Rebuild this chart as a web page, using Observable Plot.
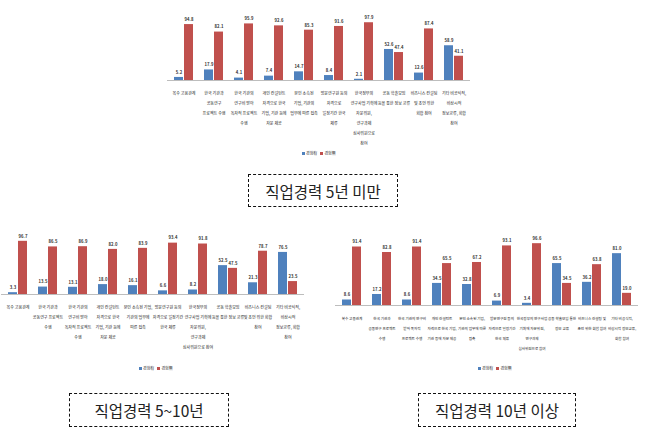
<!DOCTYPE html>
<html><head><meta charset="utf-8">
<script src="https://cdn.jsdelivr.net/npm/d3@7"></script>
<script src="https://cdn.jsdelivr.net/npm/@observablehq/plot@0.6"></script>
<style>
body{margin:0;background:#fff;font-family:"Noto Sans CJK KR",sans-serif;}
#root{position:relative;width:652px;height:433px;overflow:hidden;background:#fff;}
.chart{position:absolute;}
.legend{position:absolute;font-size:4px;color:#333;white-space:nowrap;line-height:5px;}
.legend span.sw{display:inline-block;width:3px;height:3px;margin-right:1px;vertical-align:middle;}
.legend span.t{margin-right:3px;vertical-align:middle;}
.box{position:absolute;border:1.5px dashed #111;display:flex;align-items:center;justify-content:center;font-size:15.5px;color:#222;box-sizing:border-box;}
</style></head>
<body><div id="root"></div>
<script>
const series = ["경험有", "경험無"];
const colors = ["#4F81BD", "#C0504D"];

// 직업경력 5년 미만
const labelsA = [
  "복수 고용관계",
  "한국 기관과\n공동연구\n프로젝트 수행",
  "한국 기관의\n연구비 받아\n독자적 프로젝트\n수행",
  "개인 컨설턴트\n자격으로 한국\n기업, 기관 등에\n자문 제공",
  "본인 소속된\n기업, 기관의\n업무에 따른 접촉",
  "방문연구원 등의\n자격으로\n일정기간 한국\n체류",
  "한국정부의\n연구사업 기획에\n자문위원,\n연구과제\n심사위원으로\n참여",
  "공동 학술모임\n등을 통한 정보 교류",
  "비즈니스 컨설팅\n및 조언 위한\n회합 참여",
  "기타 비공식적,\n비상시적\n정보교류, 회합\n참여"
];
const yesA = [5.2, 17.9, 4.1, 7.4, 14.7, 8.4, 2.1, 52.6, 12.6, 58.9];
const noA  = [94.8, 82.1, 95.9, 92.6, 85.3, 91.6, 97.9, 47.4, 87.4, 41.1];

// 직업경력 5~10년
const labelsB = [
  "복수 고용관계",
  "한국 기관과\n공동연구 프로젝트\n수행",
  "한국 기관의\n연구비 받아\n독자적 프로젝트\n수행",
  "개인 컨설턴트\n자격으로 한국\n기업, 기관 등에\n자문 제공",
  "본인 소속된 기업,\n기관의 업무에\n따른 접촉",
  "방문연구원 등의\n자격으로 일정기간\n한국 체류",
  "한국정부의\n연구사업 기획에\n자문위원,\n연구과제\n심사위원으로 참여",
  "공동 학술모임\n등을 통한 정보 교류",
  "비즈니스 컨설팅\n및 조언 위한 회합\n참여",
  "기타 비공식적,\n비상시적\n정보교류, 회합\n참여"
];
const yesB = [3.3, 13.5, 13.1, 18.0, 16.1, 6.6, 8.2, 52.5, 21.3, 76.5];
const noB  = [96.7, 86.5, 86.9, 82.0, 83.9, 93.4, 91.8, 47.5, 78.7, 23.5];

// 직업경력 10년 이상
const labelsC = [
  "복수 고용관계",
  "한국 기관과\n공동연구 프로젝트\n수행",
  "한국 기관의 연구비\n받아 독자적\n프로젝트 수행",
  "개인 컨설턴트\n자격으로 한국 기업,\n기관 등에 자문 제공",
  "본인 소속된 기업,\n기관의 업무에 따른\n접촉",
  "방문연구원 등의\n자격으로 일정기간\n한국 체류",
  "한국정부의 연구사업\n기획에 자문위원,\n연구과제\n심사위원으로 참여",
  "공동 학술모임 통한\n정보 교류",
  "비즈니스 컨설팅 및\n조언 위한 회합 참여",
  "기타 비공식적,\n비상시적 정보교류,\n회합 참여"
];
const yesC = [8.6, 17.2, 8.6, 34.5, 32.8, 6.9, 3.4, 65.5, 36.2, 81.0];
const noC  = [91.4, 82.8, 91.4, 65.5, 67.2, 93.1, 96.6, 34.5, 63.8, 19.0];

const captions = ["직업경력 5년 미만", "직업경력 5~10년", "직업경력 10년 이상"];

const root = document.getElementById("root");

function makeChart(labels, yes, no, cfg) {
  const rows = [];
  labels.forEach((l, i) => {
    rows.push({cat: i, series: series[0], value: yes[i]});
    rows.push({cat: i, series: series[1], value: no[i]});
  });
  const chart = Plot.plot({
    width: cfg.width, height: cfg.height,
    marginLeft: cfg.ml, marginRight: cfg.mr, marginTop: cfg.mt, marginBottom: cfg.mb,
    style: {fontFamily: "'Noto Sans CJK KR', sans-serif", background: "transparent"},
    fx: {domain: d3.range(labels.length), paddingInner: 0.3, paddingOuter: 0.15, label: null},
    x: {domain: series, padding: 0.1, axis: null},
    y: {domain: [0, 100], axis: null},
    color: {domain: series, range: colors},
    marks: [
      Plot.barY(rows, {fx: "cat", x: "series", y: "value", fill: "series"}),
      Plot.ruleY([0], {stroke: "#bdbdbd", strokeWidth: 1, insetLeft: -6, insetRight: -6}),
      Plot.text(rows, {fx: "cat", x: "series", y: "value", text: d => d.value.toFixed(1), dy: -5, fontSize: 4.2, fill: "#333", fontWeight: "bold"}),
      Plot.axisFx({anchor: "bottom", tickSize: 0, tickPadding: 7, fontSize: cfg.fs, lineHeight: 10 / cfg.fs, fill: "#222", tickFormat: i => labels[i], label: null})
    ]
  });
  const div = document.createElement("div");
  div.className = "chart";
  div.style.left = cfg.left + "px";
  div.style.top = cfg.top + "px";
  div.appendChild(chart);
  root.appendChild(div);
}

function makeLegend(left, top) {
  const div = document.createElement("div");
  div.className = "legend";
  div.style.left = left + "px";
  div.style.top = top + "px";
  series.forEach((s, i) => {
    const sw = document.createElement("span");
    sw.className = "sw"; sw.style.background = colors[i];
    const t = document.createElement("span");
    t.className = "t"; t.textContent = s;
    div.appendChild(sw); div.appendChild(t);
  });
  root.appendChild(div);
}

function makeBox(text, left, top, w, h) {
  const div = document.createElement("div");
  div.className = "box";
  div.style.left = left + "px"; div.style.top = top + "px";
  div.style.width = w + "px"; div.style.height = h + "px";
  div.textContent = text;
  root.appendChild(div);
}

makeChart(labelsA, yesA, noA, {left: 150, top: 0, width: 340, height: 145, ml: 16, mr: 19, mt: 21, mb: 65, fs: 4});
makeChart(labelsB, yesB, noB, {left: 0, top: 225, width: 320, height: 140, ml: 0, mr: 15, mt: 14, mb: 71, fs: 4});
makeChart(labelsC, yesC, noC, {left: 325, top: 225, width: 327, height: 140, ml: 7, mr: 12, mt: 16, mb: 60, fs: 3.6});

makeLegend(302, 151);
makeLegend(139, 366);
makeLegend(478, 366);

makeBox(captions[0], 248, 174, 150, 33);
makeBox(captions[1], 69, 393, 160, 34);
makeBox(captions[2], 418, 393, 158, 34);
</script>
</body></html>
